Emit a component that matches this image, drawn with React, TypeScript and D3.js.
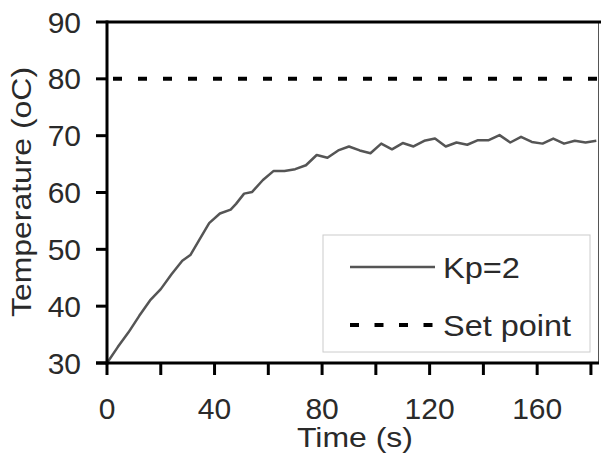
import React from 'react'
import * as d3 from 'd3'

// time (s) and temperature (oC)
const times = [0, 4, 8, 12, 16, 20, 24, 28, 31, 34, 38, 42, 46, 48, 51, 54, 58, 62, 66, 70, 74, 78, 82, 86, 90, 94, 98, 102, 106, 110, 114, 118, 122, 126, 130, 134, 138, 142, 146, 150, 154, 158, 162, 166, 170, 174, 178, 182]
const temps = [30, 32.8, 35.4, 38.3, 41, 43, 45.6, 48, 49, 51.4, 54.6, 56.3, 57, 58, 59.8, 60.1, 62.2, 63.8, 63.8, 64.1, 64.8, 66.6, 66.1, 67.4, 68.1, 67.4, 66.9, 68.6, 67.6, 68.7, 68.1, 69.1, 69.5, 68.1, 68.8, 68.4, 69.2, 69.2, 70.1, 68.8, 69.8, 68.9, 68.6, 69.5, 68.6, 69.1, 68.8, 69.1]
const setPoint = 80
const xTicks = [0, 20, 40, 60, 80, 100, 120, 140, 160, 180]
const xLabels = [0, 40, 80, 120, 160]
const yTicks = [30, 40, 50, 60, 70, 80, 90]
const legendNames = ['Kp=2', 'Set point']

const W = 601
const H = 458
const margin = { top: 22, right: 2, bottom: 95, left: 107 }
const font = 'Liberation Sans, Arial, sans-serif'
const textColor = '#2a2a2a'

const App = () => {
  const x = d3.scaleLinear().domain([0, 183]).range([margin.left, W - margin.right])
  const y = d3.scaleLinear().domain([30, 90]).range([H - margin.bottom, margin.top])

  const data = times.map((t, i) => ({ t, v: temps[i] }))
  const line = d3.line<{ t: number, v: number }>()
    .x(d => x(d.t))
    .y(d => y(d.v))

  const x0 = x(0)
  const x1 = x.range()[1]
  const yb = y(30)

  return (
    <svg width={W} height={H} style={{ position: 'absolute', left: 0, top: 0, background: '#fff' }}>
      <rect width={W} height={H} fill='#fff' />
      {/* right border */}
      <line x1={x1 - 0.5} x2={x1 - 0.5} y1={y(90)} y2={yb} stroke='#555' strokeWidth={1} />
      {/* set point */}
      <line x1={x0 + 6} x2={x1} y1={y(setPoint)} y2={y(setPoint)}
        stroke='#000' strokeWidth={4} strokeDasharray='9 16' />
      <path d={line(data) || ''} fill='none' stroke='#555' strokeWidth={2.5} strokeLinejoin='round' />

      {/* legend */}
      <rect x={323} y={235} width={267} height={117} fill='#fff' stroke='#ccc' strokeWidth={1} />
      <line x1={350} x2={435} y1={267} y2={267} stroke='#555' strokeWidth={2.5} />
      <line x1={350} x2={435} y1={325} y2={325} stroke='#000' strokeWidth={4} strokeDasharray='9 15.5' />
      <text x={443} y={278} fontFamily={font} fontSize={30} fill={textColor}
        textLength={77} lengthAdjust='spacingAndGlyphs'>{legendNames[0]}</text>
      <text x={443} y={336} fontFamily={font} fontSize={30} fill={textColor}
        textLength={128} lengthAdjust='spacingAndGlyphs'>{legendNames[1]}</text>

      {/* axes */}
      <line x1={x0} x2={W} y1={y(90)} y2={y(90)} stroke='#000' strokeWidth={3} />
      <line x1={x0} x2={x0} y1={y(90) - 1.5} y2={yb + 1.5} stroke='#000' strokeWidth={3} />
      <line x1={x0 - 11} x2={x1} y1={yb} y2={yb} stroke='#000' strokeWidth={3} />
      {yTicks.map(v => (
        <g key={v}>
          <line x1={x0 - 11} x2={x0} y1={y(v)} y2={y(v)} stroke='#000' strokeWidth={3} />
          <text x={81} y={y(v)} dy='0.35em' textAnchor='end' fontFamily={font} fontSize={30} fill={textColor}>{v}</text>
        </g>
      ))}
      {xTicks.map(t => (
        <line key={t} x1={x(t)} x2={x(t)} y1={yb} y2={yb + 12} stroke='#000' strokeWidth={3} />
      ))}
      {xLabels.map(t => (
        <text key={t} x={x(t)} y={419} textAnchor='middle' fontFamily={font} fontSize={30} fill={textColor}>{t}</text>
      ))}
      <text x={297} y={447} fontFamily={font} fontSize={28} fill={textColor}
        textLength={116} lengthAdjust='spacingAndGlyphs'>Time (s)</text>
      <text transform={`translate(31,317) rotate(-90)`} fontFamily={font} fontSize={28} fill={textColor}
        textLength={250} lengthAdjust='spacingAndGlyphs'>Temperature (oC)</text>
    </svg>
  )
}

export default App
